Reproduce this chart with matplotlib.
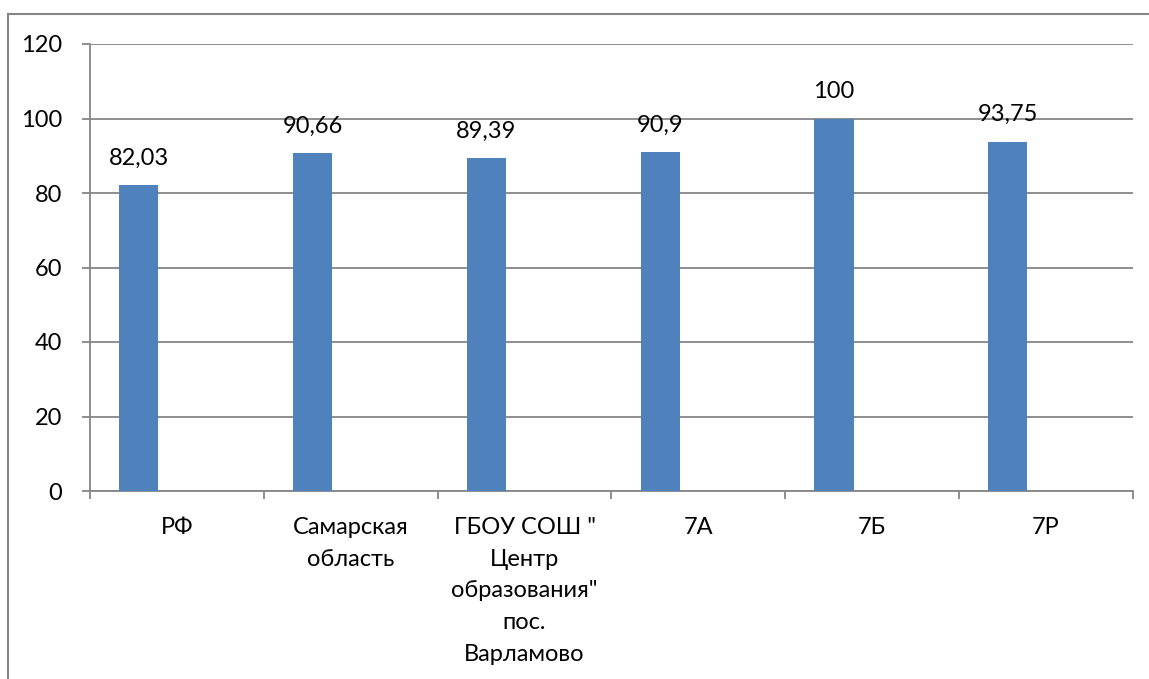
import matplotlib
matplotlib.use("Agg")
import matplotlib.pyplot as plt
from matplotlib.lines import Line2D
import numpy as np

categories = ["РФ", "Самарская\nобласть", "ГБОУ СОШ \"\nЦентр\nобразования\"\nпос.\nВарламово", "7А", "7Б", "7Р"]
values = [82.03, 90.66, 89.39, 90.9, 100, 93.75]
value_labels = ["82,03", "90,66", "89,39", "90,9", "100", "93,75"]
y_ticks = [0, 20, 40, 60, 80, 100, 120]

plt.rcParams["font.family"] = ["Lato", "DejaVu Sans"]
GRID = "#868686"
BAR = "#4F81BD"

fig = plt.figure(figsize=(11.49, 6.79), dpi=100)
ax = fig.add_axes([90 / 1149, 1 - 491 / 679, 1043 / 1149, 447 / 679])

x = np.arange(len(categories))
offset, width = -0.22, 0.225
ax.bar(x + offset, values, width=width, color=BAR, zorder=3)
for xi, v, lab in zip(x, values, value_labels):
    ax.annotate(lab, (xi + offset, v), xytext=(0, 12), textcoords="offset points",
                ha="center", va="bottom", fontsize=17, color="#000000")

ax.set_xlim(-0.5, len(categories) - 0.5)
ax.set_ylim(0, 120)
ax.set_yticks(y_ticks)
ax.yaxis.grid(True, color=GRID, linewidth=1.3, zorder=0)
ax.tick_params(axis="y", length=6, width=1.3, color=GRID, labelsize=17, pad=14)

ax.set_xticks(x)
ax.set_xticklabels(categories, fontsize=17, linespacing=1.62)
ax.set_xticks(np.arange(len(categories) + 1) - 0.5, minor=True)
ax.tick_params(axis="x", which="major", length=0, pad=19)
ax.tick_params(axis="x", which="minor", length=6, width=1.3, color=GRID)

for side in ["top", "right"]:
    ax.spines[side].set_visible(False)
for side in ["left", "bottom"]:
    ax.spines[side].set_color(GRID)
    ax.spines[side].set_linewidth(1.3)

# outer chart border (left and top only visible)
fig.add_artist(Line2D([8 / 1149, 8 / 1149], [0, 1 - 14 / 679], color=GRID, linewidth=1.5, transform=fig.transFigure))
fig.add_artist(Line2D([8 / 1149, 1], [1 - 14 / 679, 1 - 14 / 679], color=GRID, linewidth=1.5, transform=fig.transFigure))

fig.savefig("out.png", dpi=100)
